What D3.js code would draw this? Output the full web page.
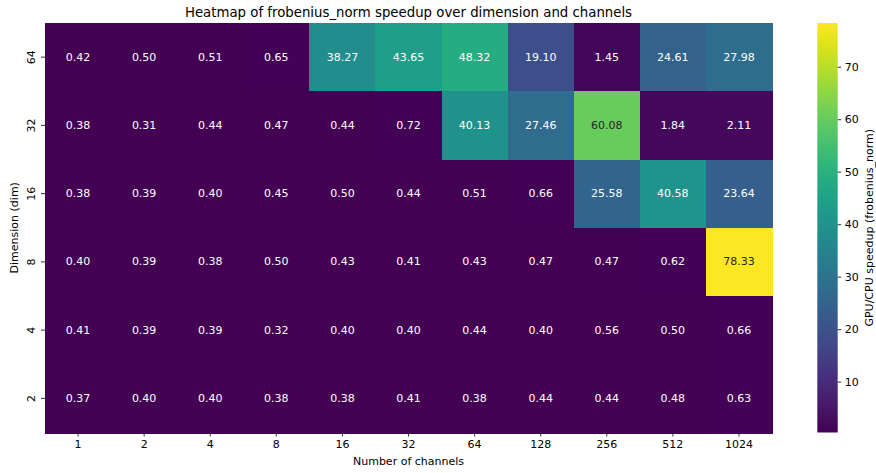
<!DOCTYPE html>
<html><head><meta charset="utf-8">
<script src="https://cdn.jsdelivr.net/npm/d3@7"></script>
<style>body{margin:0;background:#fff}text{font-family:"DejaVu Sans",sans-serif}</style>
</head><body><svg id="c" width="876" height="473"></svg>
<script>
const channels = ["1","2","4","8","16","32","64","128","256","512","1024"];
const dims = ["64","32","16","8","4","2"];
const speedup = [
  [0.42,0.50,0.51,0.65,38.27,43.65,48.32,19.10,1.45,24.61,27.98],
  [0.38,0.31,0.44,0.47,0.44,0.72,40.13,27.46,60.08,1.84,2.11],
  [0.38,0.39,0.40,0.45,0.50,0.44,0.51,0.66,25.58,40.58,23.64],
  [0.40,0.39,0.38,0.50,0.43,0.41,0.43,0.47,0.47,0.62,78.33],
  [0.41,0.39,0.39,0.32,0.40,0.40,0.44,0.40,0.56,0.50,0.66],
  [0.37,0.40,0.40,0.38,0.38,0.41,0.38,0.44,0.44,0.48,0.63]
];
const cbarTicks = [10,20,30,40,50,60,70];

const svg = d3.select("#c");
const L=45, R=772, T=23, B=432.5;
const x = d3.scaleBand().domain(channels).range([L,R]);
const y = d3.scaleBand().domain(dims).range([T,B]);
const all = speedup.flat();
const vmin = d3.min(all), vmax = d3.max(all);
const color = d3.scaleSequential(d3.interpolateViridis).domain([vmin,vmax]);

function lum(c){
  const rgb=d3.rgb(c);
  const f=v=>{v/=255;return v<=0.03928?v/12.92:Math.pow((v+0.055)/1.055,2.4);};
  return 0.2126*f(rgb.r)+0.7152*f(rgb.g)+0.0722*f(rgb.b);
}

const cells=[];
dims.forEach((d,i)=>channels.forEach((c,j)=>cells.push({d,c,v:speedup[i][j]})));
svg.append("g").attr("shape-rendering","crispEdges").selectAll("rect").data(cells).join("rect")
  .attr("x",d=>x(d.c)).attr("y",d=>y(d.d))
  .attr("width",x.bandwidth()+1).attr("height",y.bandwidth()+1)
  .attr("fill",d=>color(d.v));
svg.append("g").selectAll("text").data(cells).join("text")
  .attr("x",d=>x(d.c)+x.bandwidth()/2).attr("y",d=>y(d.d)+y.bandwidth()/2)
  .attr("text-anchor","middle").attr("dominant-baseline","central")
  .attr("font-size","11px")
  .attr("fill",d=>lum(color(d.v))>0.408?"#262626":"#fff")
  .text(d=>d.v.toFixed(2));

// x axis
const xa = svg.append("g").attr("transform",`translate(0,${B})`)
  .call(d3.axisBottom(x).tickSize(4).tickPadding(3.5));
xa.select(".domain").remove();
xa.selectAll("text").attr("font-size","11px").attr("fill","#000").attr("font-family","DejaVu Sans");
xa.selectAll("line").attr("stroke","#000").attr("stroke-width",0.8);
// y axis
const ya = svg.append("g").attr("transform",`translate(${L},0)`)
  .call(d3.axisLeft(y).tickSize(4).tickPadding(3.5));
ya.select(".domain").remove();
ya.selectAll("line").attr("stroke","#000").attr("stroke-width",0.8);
ya.selectAll("text").attr("font-size","11px").attr("fill","#000").attr("font-family","DejaVu Sans")
  .attr("text-anchor","middle").attr("dy",null).attr("x",null)
  .attr("transform","translate(-14,0) rotate(-90)").attr("dominant-baseline","central");

svg.append("text").attr("x",(L+R)/2).attr("y",16.5).attr("text-anchor","middle")
  .attr("font-size","13.3px").attr("fill","#000").text("Heatmap of frobenius_norm speedup over dimension and channels");
svg.append("text").attr("x",(L+R)/2).attr("y",465).attr("text-anchor","middle")
  .attr("font-size","11px").attr("fill","#000").text("Number of channels");
svg.append("text").attr("transform",`translate(18,${(T+B)/2}) rotate(-90)`).attr("text-anchor","middle")
  .attr("font-size","11px").attr("fill","#000").text("Dimension (dim)");

// colorbar
const cx0=817.3, cw=20.4;
const cy = d3.scaleLinear().domain([vmin,vmax]).range([B,T]);
const defs=svg.append("defs");
const grad=defs.append("linearGradient").attr("id","g").attr("x1",0).attr("y1",1).attr("x2",0).attr("y2",0);
d3.range(0,1.0001,0.05).forEach(t=>grad.append("stop").attr("offset",t).attr("stop-color",d3.interpolateViridis(t)));
svg.append("rect").attr("x",cx0).attr("y",T).attr("width",cw).attr("height",B-T).attr("fill","url(#g)");
const ca = svg.append("g").attr("transform",`translate(${cx0+cw},0)`)
  .call(d3.axisRight(cy).tickValues(cbarTicks).tickSize(3.5).tickPadding(3.5));
ca.select(".domain").remove();
ca.selectAll("line").attr("stroke","#000").attr("stroke-width",0.8);
ca.selectAll("text").attr("font-size","11px").attr("fill","#000").attr("font-family","DejaVu Sans");
svg.append("text").attr("transform",`translate(873,${(T+B)/2}) rotate(-90)`).attr("text-anchor","middle")
  .attr("font-size","11px").attr("fill","#000").text("GPU/CPU speedup (frobenius_norm)");
</script></body></html>
